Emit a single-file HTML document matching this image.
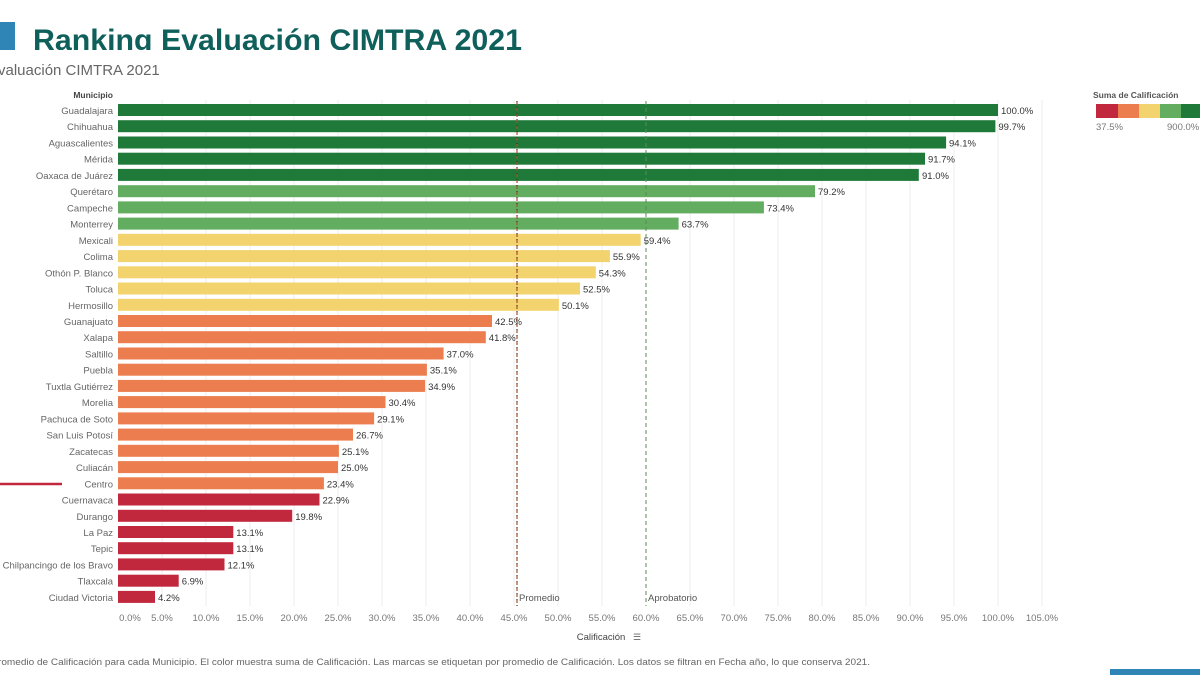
<!DOCTYPE html>
<html><head><meta charset="utf-8"><style>
html,body{margin:0;padding:0;background:#fff;width:1200px;height:675px;overflow:hidden}
svg{display:block;font-family:"Liberation Sans",sans-serif}
.l{font-size:9.5px;fill:#666;text-anchor:end}
.v{font-size:9.5px;fill:#333}
.t{font-size:9.5px;fill:#777;text-anchor:middle}
.dg{fill:#1f7a3a}.lg{fill:#62ad5f}.y{fill:#f3d36e}.o{fill:#ec7d4e}.r{fill:#c1283d}
</style></head><body>
<svg width="1200" height="675" viewBox="0 0 1200 675">
<rect x="0" y="22" width="15" height="28" fill="#2f86b6"/>
<clipPath id="c"><rect x="0" y="0" width="1200" height="50"/></clipPath>
<text x="33" y="50" font-size="30" font-weight="bold" fill="#0f5f5b" clip-path="url(#c)" textLength="489" lengthAdjust="spacingAndGlyphs">Ranking Evaluación CIMTRA 2021</text>
<text x="-2" y="75" font-size="15" fill="#666">valuación CIMTRA 2021</text>
<text x="113" y="98" font-size="8.5" font-weight="bold" fill="#444" text-anchor="end">Municipio</text>
<g stroke="#eee" stroke-width="1">
<line x1="162" y1="100" x2="162" y2="606"/><line x1="206" y1="100" x2="206" y2="606"/><line x1="250" y1="100" x2="250" y2="606"/><line x1="294" y1="100" x2="294" y2="606"/><line x1="338" y1="100" x2="338" y2="606"/><line x1="382" y1="100" x2="382" y2="606"/><line x1="426" y1="100" x2="426" y2="606"/><line x1="470" y1="100" x2="470" y2="606"/><line x1="514" y1="100" x2="514" y2="606"/><line x1="558" y1="100" x2="558" y2="606"/><line x1="602" y1="100" x2="602" y2="606"/><line x1="690" y1="100" x2="690" y2="606"/><line x1="734" y1="100" x2="734" y2="606"/><line x1="778" y1="100" x2="778" y2="606"/><line x1="822" y1="100" x2="822" y2="606"/><line x1="866" y1="100" x2="866" y2="606"/><line x1="910" y1="100" x2="910" y2="606"/><line x1="954" y1="100" x2="954" y2="606"/><line x1="998" y1="100" x2="998" y2="606"/><line x1="1042" y1="100" x2="1042" y2="606"/>
</g>
<g>
<g transform="translate(0,104)"><text class="l" x="113" y="10">Guadalajara</text><rect class="dg" x="118" y="0" width="880" height="12"/><text class="v" x="1001" y="10">100.0%</text></g>
<g transform="translate(0,120.2)"><text class="l" x="113" y="10">Chihuahua</text><rect class="dg" x="118" y="0" width="877.4" height="12"/><text class="v" x="998.4" y="10">99.7%</text></g>
<g transform="translate(0,136.5)"><text class="l" x="113" y="10">Aguascalientes</text><rect class="dg" x="118" y="0" width="828.1" height="12"/><text class="v" x="949" y="10">94.1%</text></g>
<g transform="translate(0,152.7)"><text class="l" x="113" y="10">Mérida</text><rect class="dg" x="118" y="0" width="807" height="12"/><text class="v" x="928" y="10">91.7%</text></g>
<g transform="translate(0,168.9)"><text class="l" x="113" y="10">Oaxaca de Juárez</text><rect class="dg" x="118" y="0" width="800.8" height="12"/><text class="v" x="922" y="10">91.0%</text></g>
<g transform="translate(0,185.2)"><text class="l" x="113" y="10">Querétaro</text><rect class="lg" x="118" y="0" width="697" height="12"/><text class="v" x="818" y="10">79.2%</text></g>
<g transform="translate(0,201.4)"><text class="l" x="113" y="10">Campeche</text><rect class="lg" x="118" y="0" width="645.9" height="12"/><text class="v" x="767" y="10">73.4%</text></g>
<g transform="translate(0,217.6)"><text class="l" x="113" y="10">Monterrey</text><rect class="lg" x="118" y="0" width="560.6" height="12"/><text class="v" x="681.6" y="10">63.7%</text></g>
<g transform="translate(0,233.8)"><text class="l" x="113" y="10">Mexicali</text><rect class="y" x="118" y="0" width="522.7" height="12"/><text class="v" x="643.7" y="10">59.4%</text></g>
<g transform="translate(0,250.1)"><text class="l" x="113" y="10">Colima</text><rect class="y" x="118" y="0" width="491.9" height="12"/><text class="v" x="612.9" y="10">55.9%</text></g>
<g transform="translate(0,266.3)"><text class="l" x="113" y="10">Othón P. Blanco</text><rect class="y" x="118" y="0" width="477.8" height="12"/><text class="v" x="598.8" y="10">54.3%</text></g>
<g transform="translate(0,282.5)"><text class="l" x="113" y="10">Toluca</text><rect class="y" x="118" y="0" width="462" height="12"/><text class="v" x="583" y="10">52.5%</text></g>
<g transform="translate(0,298.8)"><text class="l" x="113" y="10">Hermosillo</text><rect class="y" x="118" y="0" width="440.9" height="12"/><text class="v" x="561.9" y="10">50.1%</text></g>
<g transform="translate(0,315)"><text class="l" x="113" y="10">Guanajuato</text><rect class="o" x="118" y="0" width="374" height="12"/><text class="v" x="495" y="10">42.5%</text></g>
<g transform="translate(0,331.2)"><text class="l" x="113" y="10">Xalapa</text><rect class="o" x="118" y="0" width="367.8" height="12"/><text class="v" x="488.8" y="10">41.8%</text></g>
<g transform="translate(0,347.5)"><text class="l" x="113" y="10">Saltillo</text><rect class="o" x="118" y="0" width="325.6" height="12"/><text class="v" x="446.6" y="10">37.0%</text></g>
<g transform="translate(0,363.7)"><text class="l" x="113" y="10">Puebla</text><rect class="o" x="118" y="0" width="308.9" height="12"/><text class="v" x="429.9" y="10">35.1%</text></g>
<g transform="translate(0,379.9)"><text class="l" x="113" y="10">Tuxtla Gutiérrez</text><rect class="o" x="118" y="0" width="307.1" height="12"/><text class="v" x="428.1" y="10">34.9%</text></g>
<g transform="translate(0,396.1)"><text class="l" x="113" y="10">Morelia</text><rect class="o" x="118" y="0" width="267.5" height="12"/><text class="v" x="388.5" y="10">30.4%</text></g>
<g transform="translate(0,412.4)"><text class="l" x="113" y="10">Pachuca de Soto</text><rect class="o" x="118" y="0" width="256.1" height="12"/><text class="v" x="377.1" y="10">29.1%</text></g>
<g transform="translate(0,428.6)"><text class="l" x="113" y="10">San Luis Potosí</text><rect class="o" x="118" y="0" width="235" height="12"/><text class="v" x="356" y="10">26.7%</text></g>
<g transform="translate(0,444.8)"><text class="l" x="113" y="10">Zacatecas</text><rect class="o" x="118" y="0" width="220.9" height="12"/><text class="v" x="341.9" y="10">25.1%</text></g>
<g transform="translate(0,461.1)"><text class="l" x="113" y="10">Culiacán</text><rect class="o" x="118" y="0" width="220" height="12"/><text class="v" x="341" y="10">25.0%</text></g>
<g transform="translate(0,477.3)"><text class="l" x="113" y="10">Centro</text><rect class="o" x="118" y="0" width="205.9" height="12"/><text class="v" x="326.9" y="10">23.4%</text></g>
<g transform="translate(0,493.5)"><text class="l" x="113" y="10">Cuernavaca</text><rect class="r" x="118" y="0" width="201.5" height="12"/><text class="v" x="322.5" y="10">22.9%</text></g>
<g transform="translate(0,509.8)"><text class="l" x="113" y="10">Durango</text><rect class="r" x="118" y="0" width="174.2" height="12"/><text class="v" x="295.2" y="10">19.8%</text></g>
<g transform="translate(0,526)"><text class="l" x="113" y="10">La Paz</text><rect class="r" x="118" y="0" width="115.3" height="12"/><text class="v" x="236.3" y="10">13.1%</text></g>
<g transform="translate(0,542.2)"><text class="l" x="113" y="10">Tepic</text><rect class="r" x="118" y="0" width="115.3" height="12"/><text class="v" x="236.3" y="10">13.1%</text></g>
<g transform="translate(0,558.4)"><text class="l" x="113" y="10">Chilpancingo de los Bravo</text><rect class="r" x="118" y="0" width="106.5" height="12"/><text class="v" x="227.5" y="10">12.1%</text></g>
<g transform="translate(0,574.7)"><text class="l" x="113" y="10">Tlaxcala</text><rect class="r" x="118" y="0" width="60.7" height="12"/><text class="v" x="181.7" y="10">6.9%</text></g>
<g transform="translate(0,590.9)"><text class="l" x="113" y="10">Ciudad Victoria</text><rect class="r" x="118" y="0" width="37" height="12"/><text class="v" x="158" y="10">4.2%</text></g>
</g>
<line x1="517" y1="101" x2="517" y2="606" stroke="#a0522d" stroke-width="1.2" stroke-dasharray="4,2"/>
<line x1="517" y1="101" x2="517" y2="606" stroke="#222" stroke-width="0.8" stroke-dasharray="1,5"/>
<line x1="646" y1="101" x2="646" y2="606" stroke="#5a8a5a" stroke-width="1" stroke-dasharray="4,3"/>
<text x="519" y="601" font-size="9.5" fill="#555">Promedio</text>
<text x="648" y="601" font-size="9.5" fill="#555">Aprobatorio</text>
<g>
<text class="t" x="130" y="621">0.0%</text><text class="t" x="162" y="621">5.0%</text><text class="t" x="206" y="621">10.0%</text><text class="t" x="250" y="621">15.0%</text><text class="t" x="294" y="621">20.0%</text><text class="t" x="338" y="621">25.0%</text><text class="t" x="382" y="621">30.0%</text><text class="t" x="426" y="621">35.0%</text><text class="t" x="470" y="621">40.0%</text><text class="t" x="514" y="621">45.0%</text><text class="t" x="558" y="621">50.0%</text><text class="t" x="602" y="621">55.0%</text><text class="t" x="646" y="621">60.0%</text><text class="t" x="690" y="621">65.0%</text><text class="t" x="734" y="621">70.0%</text><text class="t" x="778" y="621">75.0%</text><text class="t" x="822" y="621">80.0%</text><text class="t" x="866" y="621">85.0%</text><text class="t" x="910" y="621">90.0%</text><text class="t" x="954" y="621">95.0%</text><text class="t" x="998" y="621">100.0%</text><text class="t" x="1042" y="621">105.0%</text>
</g>
<text x="601" y="640" font-size="9.5" fill="#444" text-anchor="middle">Calificación</text>
<text x="633" y="640" font-size="9" fill="#666">☰</text>
<text x="-2" y="665" font-size="9" fill="#666" textLength="872" lengthAdjust="spacingAndGlyphs">romedio de Calificación para cada Municipio. El color muestra suma de Calificación. Las marcas se etiquetan por promedio de Calificación. Los datos se filtran en Fecha año, lo que conserva 2021.</text>
<line x1="0" y1="484" x2="62" y2="484" stroke="#c1283d" stroke-width="2.5"/>
<text x="1093" y="98" font-size="8.5" font-weight="bold" fill="#555">Suma de Calificación</text>
<rect x="1096" y="104" width="22" height="14" fill="#c1283d"/>
<rect x="1118" y="104" width="21" height="14" fill="#ec7d4e"/>
<rect x="1139" y="104" width="21" height="14" fill="#f3d36e"/>
<rect x="1160" y="104" width="21" height="14" fill="#62ad5f"/>
<rect x="1181" y="104" width="19" height="14" fill="#1f7a3a"/>
<text x="1096" y="130" font-size="9.5" fill="#777">37.5%</text>
<text x="1167" y="130" font-size="9.5" fill="#777">900.0%</text>
<rect x="1110" y="669" width="90" height="6" fill="#2f86b6"/>
</svg>
</body></html>
